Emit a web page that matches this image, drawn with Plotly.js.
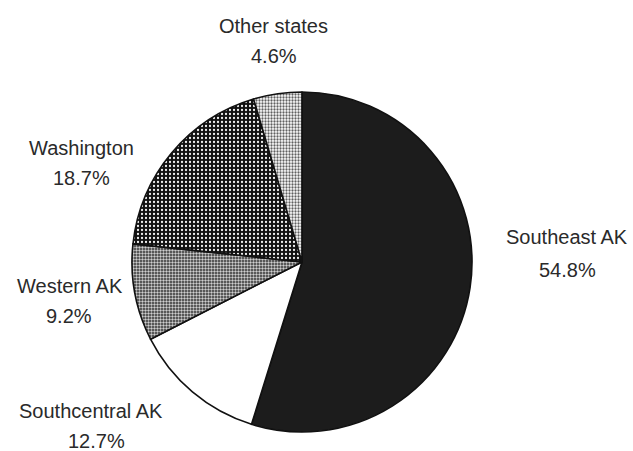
<!DOCTYPE html>
<html>
<head>
<meta charset="utf-8">
<script src="https://cdn.plot.ly/plotly-3.0.1.min.js"></script>
<style>html,body{margin:0;padding:0;background:#fff;}#chart{width:633px;height:451px;}</style>
</head>
<body>
<div id="chart"></div>
<script>
// Data
var regions = ['Southeast AK', 'Southcentral AK', 'Western AK', 'Washington', 'Other states'];
var shares = [54.8, 12.7, 9.2, 18.7, 4.6];

// Styling (not data)
var fills = [
  {bg: '#1c1c1c', fg: '#1c1c1c', shape: '', size: 4, sol: 0.3},
  {bg: '#ffffff', fg: '#ffffff', shape: '', size: 4, sol: 0.3},
  {bg: '#303030', fg: '#cfcfcf', shape: '.', size: 3, sol: 0.5},
  {bg: '#101010', fg: '#f0f0f0', shape: '.', size: 4, sol: 0.25},
  {bg: '#ffffff', fg: '#606060', shape: '.', size: 3, sol: 0.45}
];
// label centres in pixels: [nameX, nameY, pctX, pctY]
var labelPos = [
  [567, 237, 567, 270],
  [91, 411, 96, 441],
  [70, 286, 69, 316],
  [81, 148, 81, 178],
  [273, 26, 274, 56]
];

var W = 633, H = 451;
var cx = 302, cy = 262, r = 170;

var trace = {
  type: 'pie',
  labels: regions,
  values: shares,
  sort: false,
  direction: 'clockwise',
  rotation: 0,
  textinfo: 'none',
  hoverinfo: 'none',
  showlegend: false,
  domain: {x: [(cx - r) / W, (cx + r) / W], y: [(H - cy - r) / H, (H - cy + r) / H]},
  marker: {
    colors: fills.map(function (f) { return f.bg; }),
    line: {color: '#111', width: 1.6},
    pattern: {
      shape: fills.map(function (f) { return f.shape; }),
      bgcolor: fills.map(function (f) { return f.bg; }),
      fgcolor: fills.map(function (f) { return f.fg; }),
      size: fills.map(function (f) { return f.size; }),
      solidity: fills.map(function (f) { return f.sol; }),
      fillmode: 'replace'
    }
  }
};

var font = {family: 'Liberation Sans, Arial, sans-serif', size: 20, color: '#2a2a2a'};
var annotations = [];
regions.forEach(function (name, i) {
  var p = labelPos[i];
  annotations.push({xref: 'paper', yref: 'paper', x: p[0] / W, y: 1 - p[1] / H,
    xanchor: 'center', yanchor: 'middle', showarrow: false, text: name, font: font});
  annotations.push({xref: 'paper', yref: 'paper', x: p[2] / W, y: 1 - p[3] / H,
    xanchor: 'center', yanchor: 'middle', showarrow: false, text: shares[i].toFixed(1) + '%', font: font});
});

var layout = {
  width: W, height: H,
  margin: {l: 0, r: 0, t: 0, b: 0},
  paper_bgcolor: '#ffffff',
  plot_bgcolor: '#ffffff',
  annotations: annotations
};

Plotly.newPlot('chart', [trace], layout, {staticPlot: true, displayModeBar: false});
</script>
</body>
</html>
